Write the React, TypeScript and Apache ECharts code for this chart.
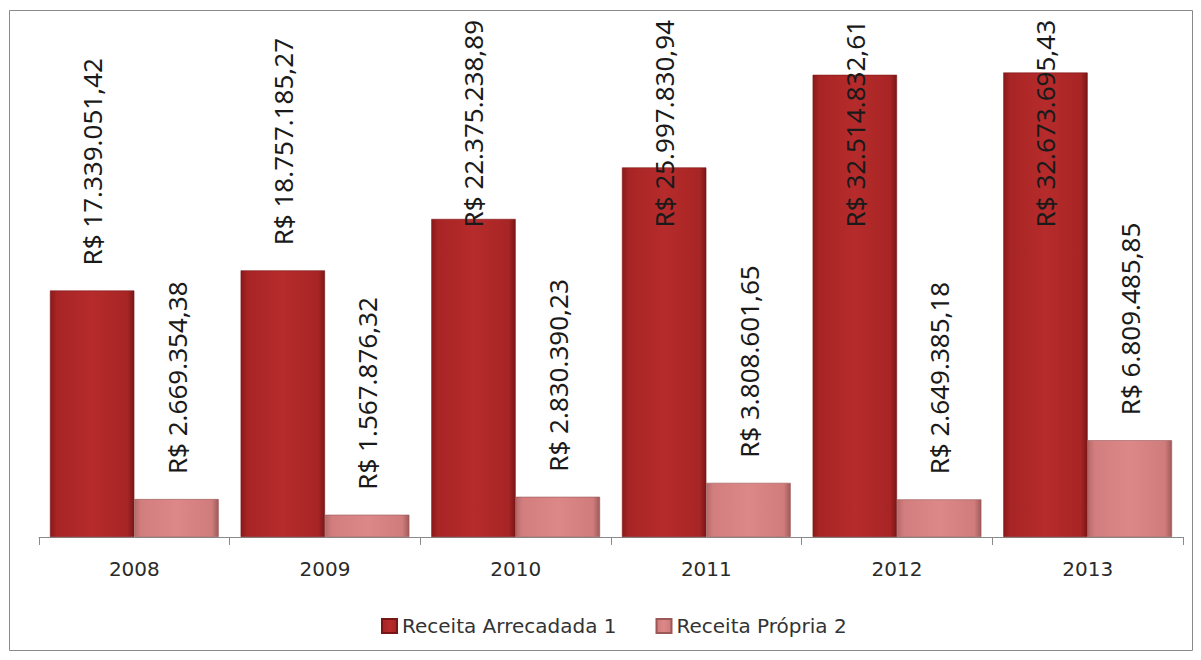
import React, { useEffect, useRef } from "react";
import * as echarts from "echarts";

const categories = ["2008", "2009", "2010", "2011", "2012", "2013"];
const receitaArrecadada = [17339051.42, 18757185.27, 22375238.89, 25997830.94, 32514832.61, 32673695.43];
const receitaPropria = [2669354.38, 1567876.32, 2830390.23, 3808601.65, 2649385.18, 6809485.85];
const seriesNames = ["Receita Arrecadada 1", "Receita Própria 2"];

const W = 1201;
const H = 660;
const GRID_TOP = 21;
const GRID_BOTTOM = 123;
const Y_MAX = 36300000;
const LABEL_FONT = "Noto Sans";
const LABEL_SIZE = 26;
const LABEL_DIST = 25;

function formatBRL(v: number): string {
  const fixed = v.toFixed(2);
  const [intPart, dec] = fixed.split(".");
  const withDots = intPart.replace(/\B(?=(\d{3})+(?!\d))/g, ".");
  return "R$ " + withDots + "," + dec;
}

function measure(text: string): number {
  const c = document.createElement("canvas");
  const ctx = c.getContext("2d");
  if (!ctx) return text.length * 13;
  ctx.font = `${LABEL_SIZE}px "${LABEL_FONT}"`;
  return ctx.measureText(text).width;
}

function buildData(values: number[]) {
  const plotH = H - GRID_TOP - GRID_BOTTOM;
  return values.map((v) => {
    const txt = formatBRL(v);
    const len = measure(txt);
    const barTop = GRID_TOP + plotH * (1 - v / Y_MAX);
    const room = barTop - (GRID_TOP - 1) - len;
    const dist = Math.min(LABEL_DIST, room);
    return { value: v, label: { distance: dist } };
  });
}

const redGrad = () =>
  new echarts.graphic.LinearGradient(0, 0, 1, 0, [
    { offset: 0, color: "#8A1A1A" },
    { offset: 0.08, color: "#A82525" },
    { offset: 0.5, color: "#B62B2B" },
    { offset: 0.92, color: "#A82525" },
    { offset: 1, color: "#7A1717" },
  ]);
const pinkGrad = () =>
  new echarts.graphic.LinearGradient(0, 0, 1, 0, [
    { offset: 0, color: "#B86A6A" },
    { offset: 0.08, color: "#D27E7E" },
    { offset: 0.5, color: "#DC8888" },
    { offset: 0.92, color: "#D07C7C" },
    { offset: 1, color: "#9E5A5A" },
  ]);

export default function App() {
  const ref = useRef<HTMLDivElement>(null);
  useEffect(() => {
    if (!ref.current) return;
    const chart = echarts.init(ref.current, undefined, { renderer: "svg" });
    const labelCommon = {
      show: true,
      position: "top",
      rotate: 90,
      align: "left",
      verticalAlign: "middle",
      fontFamily: LABEL_FONT,
      fontSize: LABEL_SIZE,
      color: "#1a1a1a",
      formatter: (p: any) => formatBRL(p.value),
    };
    chart.setOption({
      animation: false,
      backgroundColor: "#ffffff",
      graphic: [
        {
          type: "rect",
          shape: { x: 9.5, y: 10.5, width: 1183, height: 640 },
          style: { fill: "none", stroke: "#8a8a8a", lineWidth: 1 },
          silent: true,
        },
      ],
      grid: { left: 39, right: 18, top: GRID_TOP, bottom: GRID_BOTTOM, containLabel: false },
      legend: {
        left: 376,
        top: 611,
        itemWidth: 15,
        itemHeight: 14,
        itemGap: 39,
        icon: "rect",
        textStyle: { fontFamily: "DejaVu Sans", fontSize: 20, color: "#333" },
        data: seriesNames,
      },
      xAxis: {
        type: "category",
        data: categories,
        boundaryGap: true,
        axisLine: { show: true, lineStyle: { color: "#8a8a8a", width: 1 } },
        axisTick: { show: true, length: 8, lineStyle: { color: "#8a8a8a" } },
        axisLabel: { fontFamily: "DejaVu Sans", fontSize: 20, color: "#2a2a2a", margin: 22 },
      },
      yAxis: {
        type: "value",
        min: 0,
        max: Y_MAX,
        show: false,
        splitLine: { show: false },
      },
      series: [
        {
          name: seriesNames[0],
          type: "bar",
          data: buildData(receitaArrecadada),
          barGap: "0%",
          barCategoryGap: "11.5%",
          itemStyle: { color: redGrad(), borderColor: "#7a1515", borderWidth: 0.6 },
          label: labelCommon,
        },
        {
          name: seriesNames[1],
          type: "bar",
          data: buildData(receitaPropria),
          barGap: "0%",
          barCategoryGap: "11.5%",
          itemStyle: { color: pinkGrad(), borderColor: "#9a5858", borderWidth: 0.6 },
          label: labelCommon,
        },
      ],
    });
    return () => chart.dispose();
  }, []);
  return (
    <div
      ref={ref}
      style={{ position: "absolute", left: 0, top: 0, width: W, height: H }}
    />
  );
}
